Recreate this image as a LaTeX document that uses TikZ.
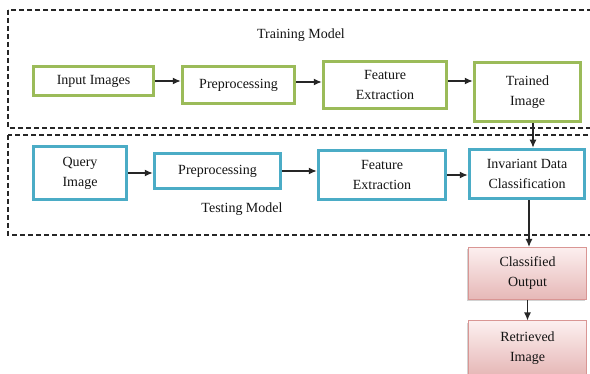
\documentclass[tikz,border=0pt]{standalone}
\usepackage{fontspec}
\setmainfont{Liberation Serif}
\usetikzlibrary{arrows.meta,shadows}
\definecolor{grn}{HTML}{9BBB59}
\definecolor{blu}{HTML}{4BACC6}
\definecolor{pinkb}{HTML}{D99694}
\definecolor{pinkt}{HTML}{FCEFEF}
\definecolor{pinkbot}{HTML}{E6B8B7}
\definecolor{txt}{HTML}{141414}
\tikzset{
  box/.style={draw, fill=white, line width=3.5pt, align=center, inner sep=0pt,
    font=\fontsize{14}{20}\selectfont, text=txt},
  trainbox/.style={box, draw=grn},
  testbox/.style={box, draw=blu},
  outbox/.style={draw=pinkb, line width=1pt, top color=pinkt, bottom color=pinkbot,
    align=center, inner sep=0pt, font=\fontsize{14}{20}\selectfont, text=txt,
    drop shadow={shadow xshift=-1.5pt, shadow yshift=-2pt, opacity=0.35}},
  region/.style={draw=black!85, line width=1.1pt, dash pattern=on 5pt off 3pt},
  arr/.style={draw=black!85, line width=1.3pt, -{Latex[length=8pt,width=7pt]}},
  lbl/.style={font=\fontsize{14}{20}\selectfont, text=txt}
}
\begin{document}
\begin{tikzpicture}[x=1pt,y=-1pt]
\clip (0,0) rectangle (590,374);
\useasboundingbox (0,0) rectangle (590,374);
\fill[white] (0,0) rectangle (590,374);
% regions
\draw[region] (8,10) rectangle (610,128);
\draw[region] (8,135) rectangle (610,235);
\node[lbl] (trlbl) at (301,35) {Training Model};
\node[lbl] (telbl) at (242,209) {Testing Model};
% training row
\node[trainbox, minimum width=120, minimum height=29] (in1) at (93.5,81) {Input Images};
\node[trainbox, minimum width=112, minimum height=37] (pre1) at (238.5,85) {Preprocessing};
\node[trainbox, minimum width=123, minimum height=47] (fe1) at (385,85) {Feature\\Extraction};
\node[trainbox, minimum width=106, minimum height=59] (tr1) at (527.5,92) {Trained\\Image};
% testing row
\node[testbox, minimum width=93, minimum height=53] (q) at (80,173) {Query\\Image};
\node[testbox, minimum width=126, minimum height=35] (pre2) at (217.5,171) {Preprocessing};
\node[testbox, minimum width=127, minimum height=49] (fe2) at (382,175) {Feature\\Extraction};
\node[testbox, minimum width=115, minimum height=49] (inv) at (527,174) {Invariant Data\\Classification};
% outputs
\node[outbox, minimum width=118, minimum height=52] (co) at (527.5,273.5) {Classified\\Output};
\node[outbox, minimum width=118, minimum height=54] (ri) at (527.5,348) {Retrieved\\Image};
% arrows
\draw[arr] (in1.east) -- (in1.east -| pre1.west);
\draw[arr] ([yshift=3pt]pre1.east) -- ([yshift=3pt]pre1.east -| fe1.west);
\draw[arr] ([yshift=4pt]fe1.east) -- ([yshift=4pt]fe1.east -| tr1.west);
\draw[arr] ([xshift=5.5pt]tr1.south) -- ([xshift=6pt]inv.north);
\draw[arr] (q.east) -- (q.east -| pre2.west);
\draw[arr] (pre2.east) -- (pre2.east -| fe2.west);
\draw[arr] (fe2.east) -- (fe2.east -| inv.west);
\draw[arr] ([xshift=2pt]inv.south) -- ([xshift=1.5pt]co.north);
\draw[arr] (co.south) -- (ri.north);
\end{tikzpicture}
\end{document}
